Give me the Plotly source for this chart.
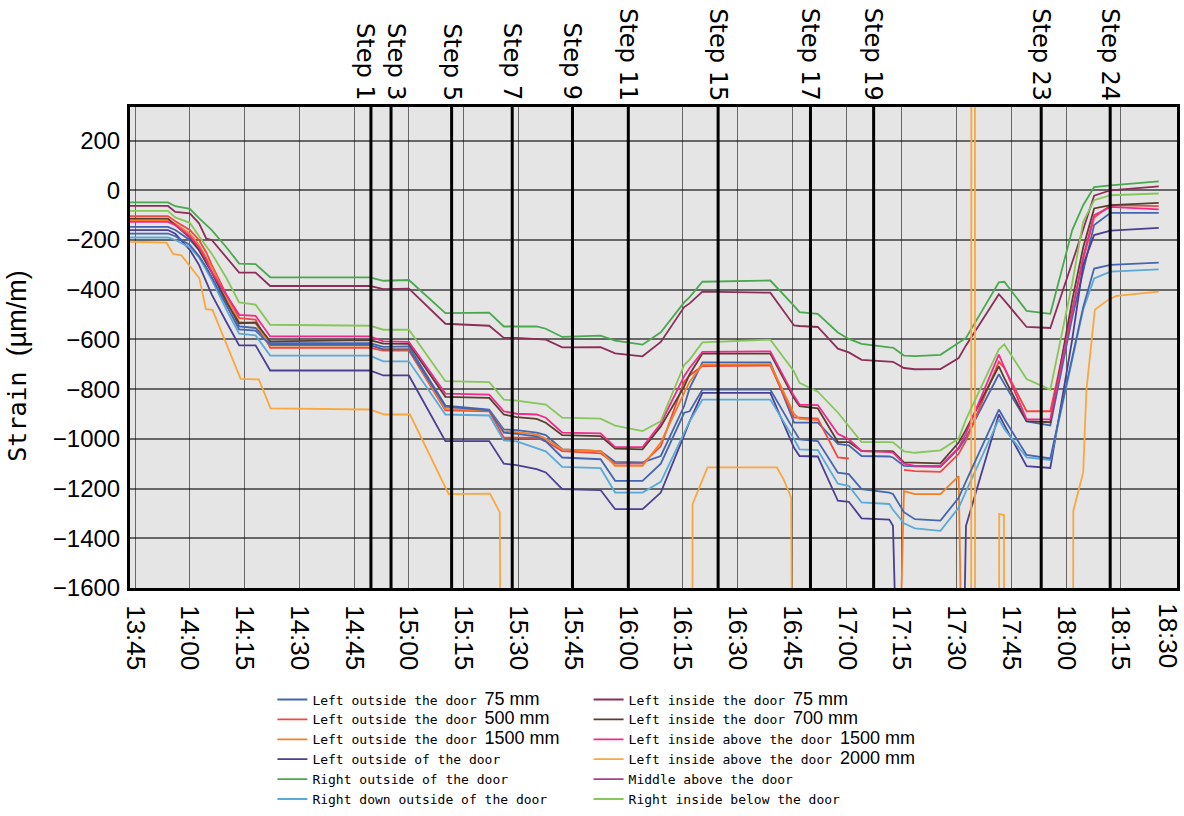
import datetime as dt
import plotly.graph_objects as go

BASE = dt.datetime(2024, 1, 1, 13, 45)

# ---------------- data ----------------
# measurement times, minutes after 13:45
grid_min = [-1.4, 9, 11, 15, 17.5, 19.5, 21, 25, 28.5, 33, 37, 64.3, 68, 75, 85, 97, 101, 104.5,
            110, 112.5, 117, 127.5, 131.5, 139, 144, 150.4, 151.9, 155.4, 174, 180.5, 182, 187,
            192.5, 195.5, 199, 206.6, 207.6, 210.6, 213.6, 220.6, 225.6, 227.6, 236.6, 238.1, 244.2,
            250.7, 256.7, 259.7, 262.7, 267.2, 280.4]

left_out_75 = [-147, -147, -160, -200, -240, -290, -330, -440, -548, -554, -615, -615, -630, -628, -866,
               -882, -962, -965, -975, -985, -1042, -1049, -1093, -1095, -1069, -868, -796, -692, -692,
               -935, -935, -935, -1020, -1026, -1069, -1071, -1075, -1109, -1111, -1113, -1040, -995,
               -740, -779, -930, -946, -511, -330, -140, -91, -91]
left_out_500 = [-104, -104, -125, -160, -200, -250, -300, -420, -514, -520, -634, -634, -645, -645, -885,
                -889, -995, -995, -995, -1010, -1049, -1058, -1100, -1100, -1030, -770, -745, -707, -705,
                -915, -915, -919, -1075, -1079, None, None, None, -1125, -1130, -1133, -1060, -1007,
                -690, -715, -889, -889, -481, -280, -110, -60, -64]
left_out_1500 = [-120, -120, -135, -175, -220, -270, -310, -430, -530, -535, -625, -625, -640, -640, -880,
                 -885, -970, -973, -982, -1000, -1042, -1049, -1109, -1109, -1015, -815, -770, -701, -699,
                 -900, -920, -925, None, None, None, None, -3000, -1210, -1222, -1222, -1150, -3000,
                 None, None, None, None, None, None, None, None, None]
left_out_door = [-160, -160, -175, -240, -300, -370, -420, -530, -624, -624, -725, -725, -745, -745, -1009,
                 -1009, -1100, -1106, -1122, -1135, -1202, -1206, -1283, -1283, -1216, -985, -930, -815,
                 -815, -1036, -1069, -1071, -1249, -1253, -1320, -1325, -1350, -3000, -3000, -3000, -3000,
                 -1350, -902, -945, -1110, -1117, -600, -300, -180, -162, -151]
right_out_door = [-49, -49, -64, -75, -112, -140, -160, -229, -295, -297, -350, -350, -364, -361, -494,
                  -492, -548, -548, -548, -557, -590, -585, -605, -621, -571, -451, -430, -368, -363,
                  -465, -490, -497, -572, -598, -618, -632, -633, -665, -667, -662, -615, -594, -370,
                  -368, -485, -497, -160, -60, 13, 20, 36]
right_down_out = [-190, -190, -200, -230, -270, -320, -360, -480, -577, -584, -665, -665, -688, -688, -902,
                  -906, -1006, -1010, -1039, -1050, -1113, -1118, -1216, -1216, -1173, -975, -930, -842,
                  -842, -1001, -1042, -1045, -1180, -1189, -1256, -1262, -1285, -1340, -1360, -1370,
                  -1277, -1211, -922, -960, -1075, -1085, -684, -480, -355, -327, -318]
left_in_75 = [-63, -63, -87, -93, -133, -195, -200, -268, -331, -331, -385, -385, -398, -396, -537, -545,
              -594, -594, -598, -601, -632, -631, -656, -668, -610, -470, -455, -408, -412, -544, -546,
              -550, -637, -652, -682, -688, -690, -715, -720, -719, -675, -624, -418, -443, -550, -554,
              -296, -158, -22, 0, 16]
left_in_700 = [-114, -114, -140, -190, -240, -290, -330, -450, -535, -532, -608, -603, -617, -618, -831,
               -835, -902, -913, -920, -935, -985, -989, -1039, -1042, -950, -790, -740, -657, -657, -837,
               -868, -877, -1013, -1013, -1049, -1049, -1050, -1095, -1097, -1099, -1015, -963, -708,
               -756, -929, -933, -442, -230, -73, -60, -51]
left_in_above_1500 = [-127, -127, -140, -185, -230, -280, -330, -420, -501, -505, -588, -588, -608, -610,
                      -818, -822, -889, -899, -902, -915, -975, -978, -1033, -1033, -938, -748, -715, -650,
                      -648, -828, -862, -864, -980, -1002, -1049, -1053, -1055, -1100, -1109, -1109, -1035,
                      -978, -661, -712, -922, -922, -483, -267, -100, -67, -77]
middle_above = [-174, -174, -185, -220, -265, -310, -350, -460, -560, -565, -622, -622, -640, -640, -870,
                -885, -975, -980, -990, -1010, -1075, -1082, -1169, -1169, -1100, -895, -889, -802, -802,
                -966, -1002, -1009, -1136, -1142, -1202, -1216, -1222, -1295, -1323, -1329, -1237, -1171,
                -882, -920, -1065, -1079, -673, -470, -315, -300, -291]
right_in_below = [-83, -83, -109, -131, -185, -225, -255, -353, -451, -460, -541, -545, -561, -561, -768,
                  -772, -842, -846, -857, -862, -915, -919, -947, -969, -929, -703, -681, -612, -601, -729,
                  -775, -810, -894, -947, -1013, -1013, -1014, -1050, -1056, -1046, -999, -922, -640,
                  -620, -759, -802, -374, -127, -40, -20, -13]

# Left inside above the door 2000 mm has its own readings (spikes out of range)
la2000_min = [-1.4, 8.6, 10.4, 12.7, 17.6, 19.4, 21.2, 28.9, 33.9, 37.1, 64.2, 68.3, 75.3, 85.9, 97.2,
              99.9, 100.4, 152.6, 152.7, 156.8, 175.8, 177.6, 179.7, 180.4, 229.0, 229.1, 230.0, 230.1,
              236.6, 236.7, 238.0, 238.1, 256.8, 257.0, 259.7, 260.6, 262.9, 266.5, 268.8, 280.4]
la2000_val = [-207, -211, -256, -262, -354, -478, -481, -759, -761, -877, -882, -902, -902, -1222, -1220,
              -1296, -3000, -3000, -1263, -1115, -1115, -1162, -1236, -3000, -3000, 3000, 3000, -3000,
              -3000, -1302, -1306, -3000, -3000, -1289, -1135, -802, -481, -441, -425, -408]

step_names = ["Step 1", "Step 3", "Step 5", "Step 7", "Step 9", "Step 11", "Step 15", "Step 17",
              "Step 19", "Step 23", "Step 24"]
step_min = [64.6, 70.1, 86.7, 103.3, 119.8, 135.1, 159.7, 185.0, 202.3, 248.2, 267.1]
step_nudge = [-6, 5, 0, 0, 0, 0, 0, 0, 0, 0, 0]

time_ticks = ["13:45", "14:00", "14:15", "14:30", "14:45", "15:00", "15:15", "15:30", "15:45", "16:00",
              "16:15", "16:30", "16:45", "17:00", "17:15", "17:30", "17:45", "18:00", "18:15", "18:30"]
strain_ticks = [200, 0, -200, -400, -600, -800, -1000, -1200, -1400, -1600]


def clock(m):
    return BASE + dt.timedelta(minutes=m)


def hhmm(s):
    h, m = s.split(":")
    return BASE.replace(hour=int(h), minute=int(m))


MM = "font-family:'Liberation Sans';font-size:18px"
grid_x = [clock(m) for m in grid_min]

series = [
    (f'Left outside the door <span style="{MM}">75 mm</span>', left_out_75, "#4466b0", "legend"),
    (f'Left outside the door <span style="{MM}">500 mm</span>', left_out_500, "#ef4a42", "legend"),
    (f'Left outside the door <span style="{MM}">1500 mm</span>', left_out_1500, "#f47f26", "legend"),
    ("Left outside of the door", left_out_door, "#4a3f92", "legend"),
    ("Right outside of the door", right_out_door, "#4aa84f", "legend"),
    ("Right down outside of the door", right_down_out, "#5ba9d6", "legend"),
    (f'Left inside the door <span style="{MM}">75 mm</span>', left_in_75, "#8c2e58", "legend2"),
    (f'Left inside the door <span style="{MM}">700 mm</span>', left_in_700, "#5a3e2e", "legend2"),
    (f'Left inside above the door <span style="{MM}">1500 mm</span>', left_in_above_1500, "#ee2a8a",
     "legend2"),
]

fig = go.Figure()
for name, vals, col, leg in series:
    fig.add_trace(go.Scatter(x=grid_x, y=vals, mode="lines", name=name, legend=leg,
                             line=dict(color=col, width=1.8), connectgaps=False))

fig.add_trace(go.Scatter(x=[clock(m) for m in la2000_min], y=la2000_val, mode="lines",
                         name=f'Left inside above the door <span style="{MM}">2000 mm</span>',
                         legend="legend2", line=dict(color="#f9a73e", width=1.8)))
# Middle above the door: drawn in blue in the source picture, purple in its legend
fig.add_trace(go.Scatter(x=grid_x, y=middle_above, mode="lines", name="Middle above the door",
                         legend="legend2", legendgroup="mid", showlegend=False,
                         line=dict(color="#4466b0", width=1.8)))
fig.add_trace(go.Scatter(x=[None], y=[None], mode="lines", name="Middle above the door", xaxis="x2",
                         legend="legend2", legendgroup="mid", line=dict(color="#a4418f", width=1.8)))
fig.add_trace(go.Scatter(x=grid_x, y=right_in_below, mode="lines", name="Right inside below the door",
                         legend="legend2", line=dict(color="#86c65a", width=1.8)))

for m, lab, nud in zip(step_min, step_names, step_nudge):
    fig.add_shape(type="line", x0=clock(m), x1=clock(m), y0=0, y1=1, xref="x", yref="paper",
                  line=dict(color="black", width=3), layer="above")
    fig.add_annotation(x=clock(m), y=1, xref="x", yref="paper", text=lab, textangle=90,
                       showarrow=False, xanchor="center", yanchor="bottom", yshift=4, xshift=nud,
                       font=dict(family="DejaVu Sans", size=24, color="black"))

# y-axis title, placed where the source shows it
fig.add_annotation(x=-0.108, y=0.462, xref="paper", yref="paper", textangle=-90, showarrow=False,
                   xanchor="center", yanchor="middle",
                   text="Strain <span style=\"font-family:'Liberation Sans';font-size:27px\">(µm/m)</span>",
                   font=dict(family="DejaVu Sans Mono", size=25, color="black"))

GRID = "rgba(0,0,0,0.55)"
TICKFONT_X = dict(family="Liberation Sans", size=26, color="black")
XRANGE = [clock(-1.4), clock(285.4)]
fig.update_layout(
    xaxis=dict(type="date", range=XRANGE,
               tickvals=[hhmm(t) for t in time_ticks[:-1]], ticktext=time_ticks[:-1], tickangle=90,
               showgrid=True, gridcolor=GRID, gridwidth=1.3, zeroline=False,
               showline=True, linecolor="black", linewidth=3, mirror=True,
               ticks="outside", ticklen=9, tickcolor="rgba(0,0,0,0)", tickfont=TICKFONT_X),
    # last time label sits at the right edge; nudged inward as in the source
    xaxis2=dict(type="date", range=XRANGE, matches="x", overlaying="x", anchor="y", side="bottom",
                tickvals=[hhmm(t) for t in time_ticks[-1:]], ticktext=time_ticks[-1:], tickangle=90,
                showgrid=False, zeroline=False, showline=False, ticklabelshift=-8,
                ticklabeloverflow="allow",
                ticks="outside", ticklen=9, tickcolor="rgba(0,0,0,0)", tickfont=TICKFONT_X),
    yaxis=dict(range=[-1600, 335], tickvals=strain_ticks, showgrid=True, gridcolor=GRID,
               gridwidth=1.6, zeroline=False, showline=True, linecolor="black", linewidth=3,
               mirror=True, ticks="outside", ticklen=2, tickcolor="rgba(0,0,0,0)",
               tickfont=dict(family="Liberation Sans", size=24, color="black")),
)

LEGFONT = dict(family="DejaVu Sans Mono", size=13, color="black")
fig.update_layout(
    width=1184, height=816,
    margin=dict(l=130, r=1, t=107, b=227),
    plot_bgcolor="#e5e5e5", paper_bgcolor="white",
    legend=dict(x=0.136, y=-0.471, xanchor="left", yanchor="bottom", font=LEGFONT,
                bgcolor="rgba(0,0,0,0)", tracegroupgap=0),
    legend2=dict(x=0.438, y=-0.471, xanchor="left", yanchor="bottom", font=LEGFONT,
                 bgcolor="rgba(0,0,0,0)", tracegroupgap=0),
)

fig.write_html("out.html", config={"displayModeBar": False},
               post_script="document.body.style.margin='0px';")
